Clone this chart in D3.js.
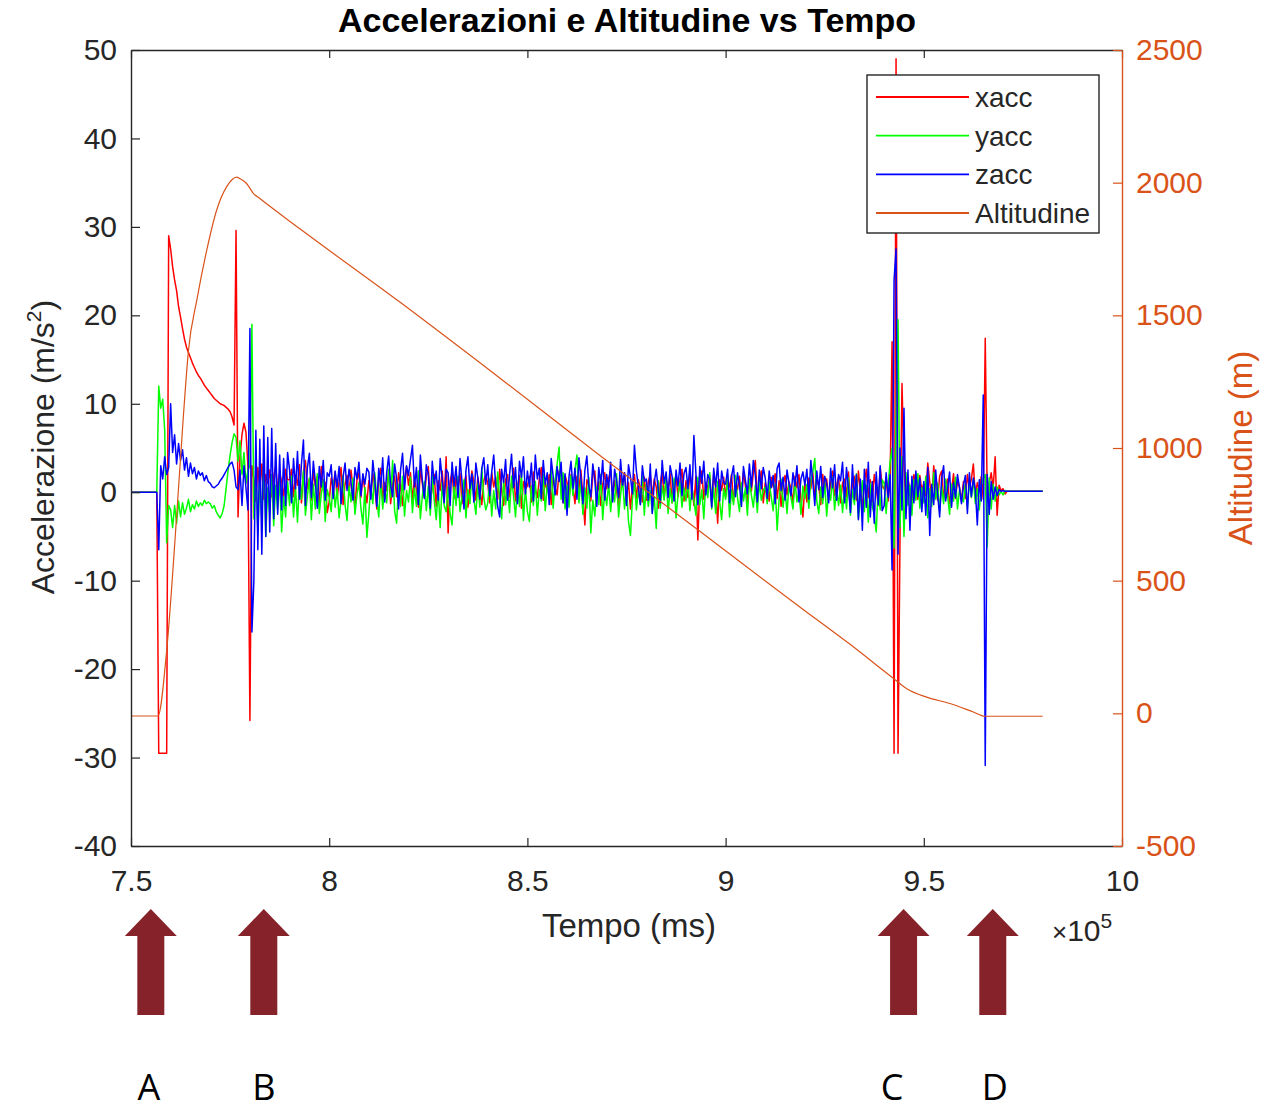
<!DOCTYPE html>
<html>
<head>
<meta charset="utf-8">
<title>Accelerazioni e Altitudine vs Tempo</title>
<script src="https://cdn.jsdelivr.net/npm/d3@7/dist/d3.min.js"></script>
<style>
  body { margin: 0; background: #fff; }
  svg { display: block; font-family: "Liberation Sans", Arial, Helvetica, sans-serif; }
</style>
</head>
<body>
<svg id="chart" width="1263" height="1116"></svg>
<script>
// ==========================================================================
// DATI
// ==========================================================================

// campionamento delle accelerazioni: t = SAMPLE_T0 + i * SAMPLE_DT (ms)
const SAMPLE_T0 = 750000;
const SAMPLE_DT = 500;

// xacc (m/s^2), una riga = 10000 ms
const xacc = [
  0,0,0,0,0,0,0,0,0,0,0,0,0,0,-29.5,-29.5,-29.5,-29.5,-29.5,29,
  27.5,25.5,24,22.8,21,19.8,18.5,17.3,16.4,15.8,15.2,14.6,14.1,13.6,13.2,12.9,12.5,12.1,11.8,11.5,
  11.2,10.9,10.6,10.4,10.2,10.0,9.9,9.8,9.6,9.4,9.1,8.5,7.6,29.6,-2.8,4,6.5,7.8,6.8,3,
  -25.8,3,1.5,-1,2.8,0.5,3.2,-0.8,2,1,2.5,-0.5,1.8,3,0.2,2.2,1.2,-0.6,2.6,1.4,
  1.4,2.6,-0.5,1.9,0.8,3.1,-1.2,2.2,3.6,0.4,1.5,-0.9,2.4,0.7,1.8,-1.6,2.9,0.2,1.1,-2.3,
  -1.1,1.6,0.5,2.3,-0.7,1.2,2.8,-1.4,0.9,1.9,-0.3,2.5,0.6,-1.8,1.4,2.2,-0.6,1.7,0.3,-1.2,
  1.3,-0.4,2.1,0.7,-1.9,1.6,2.7,-0.8,1.1,0.2,2.4,-1.3,0.9,1.8,-0.5,2.2,0.6,-1.5,1.4,2.9,
  0.8,2.2,-0.9,1.5,0.3,-1.7,2.6,1.0,-0.6,1.8,2.9,-1.1,0.5,2.0,-1.6,1.3,0.2,2.4,-0.8,4.0,
  -4.6,1.2,2.3,-0.7,1.6,0.4,2.1,-1.3,0.8,1.9,-1.7,0.5,2.4,1.1,-0.9,1.7,0.2,-1.4,1.3,2.0,
  1.0,-1.2,2.2,0.6,1.7,-0.8,2.6,0.3,-1.5,1.4,2.0,-0.5,1.1,2.7,-1.0,0.7,1.9,-1.8,1.2,0.4,
  0.7,1.8,-1.1,2.3,0.4,-0.6,1.5,2.8,-0.9,1.2,0.2,2.0,-1.4,1.6,0.5,-0.3,2.4,1.0,-1.2,1.9,
  1.1,-0.7,2.0,0.6,-1.3,1.8,0.3,2.5,-0.5,-3.7,1.4,0.8,-1.0,1.9,2.4,-0.6,1.2,-1.5,0.9,2.2,
  0.4,1.6,2.5,-0.8,1.3,0.2,-1.6,1.9,0.7,2.2,-0.4,1.1,-1.9,0.6,2.0,-0.7,1.4,0.3,-1.1,1.7,
  -0.9,1.2,2.0,-0.4,1.5,0.6,-1.8,1.0,2.3,-0.7,1.4,0.2,2.1,-1.2,0.8,1.7,-0.5,1.3,2.6,-1.0,
  1.3,-0.6,2.2,0.8,-1.5,1.8,-5.4,0.9,2.4,-0.8,1.1,0.3,1.9,-1.3,2.1,0.5,-3.5,1.4,0.2,1.7,
  -0.5,1.4,0.6,2.0,-1.1,1.2,0.3,1.8,-0.8,2.3,0.7,-1.4,1.5,0.1,2.2,3.6,-0.6,1.0,2.4,-1.2,
  1.1,0.2,-1.0,1.7,0.6,2.1,-0.7,1.3,-1.6,0.9,1.9,-0.3,1.2,0.4,-1.2,1.8,0.5,2.0,-0.9,-2.8,
  0.9,-1.1,1.6,0.4,2.2,-0.6,1.3,0.8,-1.4,2.0,0.3,1.5,-0.8,1.1,2.4,-0.4,0.7,1.8,-1.2,1.0,
  1.5,-0.5,2.3,-1.4,0.9,1.8,-0.9,2.4,0.2,-1.8,1.1,2.6,-0.6,1.4,-1.1,2.0,0.5,-1.5,2.8,0.7,
  0.4,1.7,-1.0,1.2,17,-29.5,49,-29.5,-5,12.3,3,-1.8,1.5,0.3,-1.2,2.0,0.6,-0.8,1.9,0.2,
  1.0,-0.4,3.3,1.2,-1.1,3.0,0.5,-0.9,1.8,2.4,-0.6,0.8,1.5,-1.3,0.2,2.1,-0.7,1.3,0.6,-1.0,
  1.2,-0.7,2.0,0.4,1.5,3.2,-0.5,1.1,0.2,1.8,-0.8,17.4,-0.5,1.0,2.2,0.5,4.0,-2.6,0.8,0.2,
  0.4,-0.2,0.1,0.1,0.1,0.1,0.1,0.1,0.1,0.1,0.1,0.1,0.1,0.1,0.1,0.1,0.1,0.1,0.1,0.1,0.1
];

// yacc (m/s^2)
const yacc = [
  0,0,0,0,0,0,0,0,0,0,0,0,0,0,12,9.5,10.5,7,-5.7,-1.5,
  -2,-4,-1.5,-3.5,-1,-2.8,-1.2,-2.5,-1.8,-0.8,-2.2,-1.4,-1.9,-1,-1.6,-1.2,-1.5,-0.9,-1.3,-1.1,
  -1.3,-1.8,-1.5,-2.2,-2.6,-2.9,-2.4,-1.5,0.5,2.5,4.2,5.6,6.6,6.2,3.5,5.8,2,4.5,1,2.5,
  3,19,-3,2,-4.5,1.5,-3,3.5,-5,0.5,-2.5,2,-3.8,0.8,-2,1.5,-4.5,-0.5,-2.8,1.2,
  -1.5,1.8,-2.8,0.6,-3.4,1.2,-0.8,2.4,-2.6,-0.4,1.6,-3.1,0.9,-1.9,2.1,-2.4,-0.2,1.4,-3.3,0.3,
  -0.6,-2.2,1.3,-1.7,0.4,-2.9,-0.8,1.9,-1.4,-3.2,0.7,-1.1,1.6,-2.5,-0.3,1.1,-1.8,-3.6,0.5,-5.1,
  -2.4,0.8,-1.3,2.2,-0.7,-2.8,1.5,-1.9,0.4,-1.2,2.6,-0.6,3.6,-2.1,-3.5,0.9,-1.6,1.8,-2.7,0.2,
  -1.1,1.7,-2.3,0.5,-1.6,2.4,-3.0,-0.4,1.2,-2.1,0.7,-2.6,1.9,-0.9,-3.1,0.3,-4.0,1.1,-1.5,-2.2,
  0.6,-2.4,-3.7,0.9,-1.5,1.8,-2.2,-0.5,1.4,-2.9,0.3,-1.3,2.0,-0.8,-2.5,1.0,-1.7,2.8,-0.6,-2.0,
  -1.2,1.5,-2.7,0.2,-1.9,2.3,-0.7,-3.0,1.3,-1.4,0.6,-2.3,1.8,-0.4,-2.8,0.9,-1.6,2.1,-3.2,0.4,
  -2.2,-3.3,0.7,-1.5,1.2,-2.6,0.3,-1.0,2.0,-2.1,0.9,-0.6,2.5,-1.8,1.4,3.2,5.1,-0.8,2.2,-1.9,
  0.8,-1.7,1.9,-0.4,2.6,4.2,-1.2,1.3,-2.5,0.5,-1.8,1.7,-4.6,-0.9,-2.7,0.6,-1.4,2.0,-3.1,0.2,
  -1.5,1.0,-2.2,0.4,-1.1,2.1,-2.8,-0.3,1.5,-1.9,0.6,-3.3,-4.9,-0.8,1.2,-2.0,0.3,-1.4,1.8,-2.6,
  0.9,-1.6,0.2,-2.3,-0.5,-4.1,1.3,-1.8,0.7,-0.9,2.0,-2.4,0.4,-1.2,1.6,-2.9,-0.2,1.1,-1.7,0.5,
  -1.0,1.4,-2.1,0.6,-0.9,-2.6,1.7,-1.4,0.3,-3.0,1.0,-0.6,2.2,-1.9,0.5,-2.4,1.2,-1.1,-3.1,0.4,
  -0.8,1.6,-2.8,0.3,-1.4,1.9,-0.6,-2.2,1.1,-1.0,0.5,-2.6,1.4,-0.3,-1.7,0.8,-2.3,1.2,-0.9,0.2,
  0.6,-1.3,1.2,-0.5,-2.1,0.9,-4.3,-0.8,1.5,-1.7,0.4,-2.4,1.0,-0.6,-1.9,1.3,-1.1,0.2,-2.5,0.7,
  -0.7,0.9,-1.8,1.4,2.3,3.8,-1.0,-2.4,0.6,-1.3,1.1,-2.7,0.2,-0.9,1.7,-2.0,0.4,-1.5,0.8,-2.3,
  0.5,-1.9,1.6,-2.6,0.3,-1.4,2.1,-3.0,-0.7,1.3,-2.2,0.8,-3.4,1.0,-1.6,-2.5,-4.5,0.6,-2.0,1.4,
  1.0,-2.4,0.6,3.5,5,-6.3,8,19.5,-4,4,-5,2.2,-1.5,0.8,-2.6,1.4,-0.9,2.1,-1.8,0.5,
  -1.2,1.8,-2.9,0.4,-1.6,2.2,-0.8,1.0,-2.2,0.7,-1.3,1.5,-0.4,-2.5,0.9,-1.0,1.7,-1.9,0.3,-0.7,
  -1.1,0.9,-1.8,1.2,-0.6,1.5,-1.3,0.4,-2.0,0.8,1.5,2.0,-6.2,1.6,-1.9,0.9,-1.0,0.6,-0.3,0.1,
  -0.3,0.2,0.1,0.1,0.1,0.1,0.1,0.1,0.1,0.1,0.1,0.1,0.1,0.1,0.1,0.1,0.1,0.1,0.1,0.1,0.1
];

// zacc (m/s^2)
const zacc = [
  0,0,0,0,0,0,0,0,0,0,0,0,0,0,-6.5,3,1.5,4,2,2.8,
  10,4.5,6.5,3.2,5.5,3.6,4.8,2.5,3.9,1.8,3.3,2.1,2.8,1.5,2.4,1.9,2.2,1.3,1.9,1.2,
  1.0,0.6,0.5,0.7,0.9,1.3,1.6,2.0,2.4,2.8,3.2,3.4,2.5,0.6,0.3,2.5,-1.5,3,0.5,-2,
  18.5,-15.8,-10,7,-6.5,6,-7,7.5,-5,6.2,-4.5,7.2,-3,5.5,-2.5,4.2,-2,3.8,-1.5,4.5,
  2.5,-1.2,3.8,0.4,4.6,-0.8,3.2,5.9,-1.5,2.8,4.4,-0.6,3.5,1.2,-1.8,2.9,0.6,3.6,-0.9,2.2,
  1.8,3.1,-0.7,2.4,0.6,2.9,-1.3,1.7,3.3,0.2,2.6,1.1,-0.9,2.8,1.5,3.4,-0.4,2.1,0.9,2.7,
  2.3,-0.8,3.6,1.4,-1.6,2.7,0.5,3.9,-1.1,2.2,4.1,0.8,-0.5,3.2,1.6,-1.9,2.5,4.4,0.3,3.0,
  1.9,3.7,5.3,0.6,2.8,-1.4,4.2,1.3,-0.7,3.1,2.0,-1.8,3.5,0.9,2.4,-0.9,3.8,1.5,-1.2,2.6,
  2.2,-1.5,3.4,0.7,2.9,-0.6,3.8,1.2,-1.9,2.5,4.0,0.4,2.1,-1.1,3.3,1.6,-0.8,2.7,3.9,0.9,
  3.1,-0.4,2.3,4.2,0.8,-1.6,-2.8,2.6,1.1,3.7,-0.9,2.0,4.3,0.5,2.8,-1.3,3.5,1.7,4.0,-0.2,
  2.4,0.6,3.3,-1.0,4.2,1.5,2.7,-0.7,3.6,0.9,2.2,-1.4,3.8,1.8,-0.3,2.9,1.2,3.4,-1.2,2.1,
  -2.6,1.8,3.5,0.4,2.7,-0.8,3.9,1.6,-1.3,2.5,4.1,0.7,-0.5,3.2,1.4,-1.6,2.8,0.9,3.6,-0.9,
  2.0,0.5,3.4,-1.1,2.6,1.3,-0.6,3.7,0.8,2.2,-1.5,3.1,1.7,-0.2,5.3,2.4,0.6,-1.4,3.0,1.2,
  1.5,-0.9,3.2,-2.4,1.1,2.6,0.3,-1.2,3.6,1.0,2.3,-0.6,3.0,1.8,-1.0,2.5,0.7,3.3,-0.4,2.1,
  2.8,0.4,3.1,-0.8,6.4,2.2,-1.4,2.9,1.0,3.5,-0.3,2.0,1.4,-1.7,2.7,0.6,3.3,-1.0,2.4,1.1,
  0.9,2.6,-1.2,1.8,3.0,-0.5,2.2,0.8,-1.6,2.9,1.4,-0.2,3.2,0.6,3.6,1.9,-1.1,2.5,0.4,2.8,
  1.6,-0.7,2.4,0.5,1.9,-1.3,2.7,3.3,0.2,1.7,-0.9,2.5,1.0,-0.4,2.2,0.7,3.0,-1.1,1.5,2.3,
  0.8,2.6,-0.8,3.6,1.2,-1.5,2.4,0.3,2.9,-0.6,1.8,1.0,-1.2,2.7,0.5,3.1,-0.9,2.0,1.3,3.4,
  -1.2,2.8,0.4,-2.3,3.1,-0.8,2.0,-3.1,1.5,-4.3,2.6,-1.7,3.4,-2.8,1.2,-3.5,2.3,-1.4,3.0,-2.1,
  -1.5,2.2,-0.6,2.0,-8.8,24,27.5,-7,5,-2,9.5,-3,2.5,-4.3,1.8,-1.2,2.4,-0.5,1.6,-2.2,
  1.2,-2.6,2.8,-4.9,0.9,-1.4,2.5,-0.3,-2.8,1.6,3.0,-1.0,0.4,2.3,-1.7,1.1,-0.6,2.0,0.5,-1.3,
  0.8,1.9,-2.4,2.2,-0.5,1.6,0.3,-3.7,1.4,-1.0,11,-30.9,2.0,-2.5,1.2,-0.8,0.6,-0.4,0.3,0.1,
  0.2,0.1,0.1,0.1,0.1,0.1,0.1,0.1,0.1,0.1,0.1,0.1,0.1,0.1,0.1,0.1,0.1,0.1,0.1,0.1,0.1
];

// altitudine (m) ai tempi indicati (ms)
const altTime = [750000, 756800, 759000, 761500, 763200, 764500, 766600, 769100, 771600,
  774100, 776700, 777500, 779200, 780900, 782500, 792600, 817900, 843100, 868300,
  893500, 918800, 931400, 942300, 945700, 950700, 956600, 962500, 965400, 980000];
const altValue = [-10, -10, 237, 740, 1117, 1368, 1557, 1745, 1896,
  1984, 2021, 2015, 1996, 1959, 1940, 1826, 1549, 1263, 972,
  686, 400, 260, 132, 93, 61, 37, 5, -11, -11];

// assi
const xTicks = [750000, 800000, 850000, 900000, 950000, 1000000];
const leftTicks = [-40, -30, -20, -10, 0, 10, 20, 30, 40, 50];
const rightTicks = [-500, 0, 500, 1000, 1500, 2000, 2500];

// legenda
const legendLabels = ['xacc', 'yacc', 'zacc', 'Altitudine'];
const seriesColors = ['#FF0000', '#00FF00', '#0000FF', '#D95319'];

// frecce e lettere sotto il grafico (tempo, ms)
const eventTime = [755000, 783500, 944900, 967400];
const eventLabelTime = [754500, 783500, 942000, 967900];
const eventLabels = ['A', 'B', 'C', 'D'];

// ==========================================================================
// LAYOUT E SCALE
// ==========================================================================

const AXIS_COLOR = '#262626';
const ALT_COLOR = '#D95319';
const ARROW_COLOR = '#86222A';
const plot = { left: 131, top: 50, right: 1122, bottom: 846 };

const x = d3.scaleLinear().domain([750000, 1000000]).range([plot.left, plot.right]);
const yL = d3.scaleLinear().domain([-40, 50]).range([plot.bottom, plot.top]);
const yR = d3.scaleLinear().domain([-500, 2500]).range([plot.bottom, plot.top]);

const svg = d3.select('#chart');

svg.append('defs').append('clipPath').attr('id', 'plot-clip')
  .append('rect')
  .attr('x', plot.left).attr('y', plot.top)
  .attr('width', plot.right - plot.left).attr('height', plot.bottom - plot.top);

// ==========================================================================
// SERIE
// ==========================================================================

const series = [
  { name: 'xacc', values: xacc, color: seriesColors[0] },
  { name: 'yacc', values: yacc, color: seriesColors[1] },
  { name: 'zacc', values: zacc, color: seriesColors[2] }
];

const accLine = d3.line()
  .x((d, i) => x(SAMPLE_T0 + i * SAMPLE_DT))
  .y(d => yL(d));

const lines = svg.append('g').attr('clip-path', 'url(#plot-clip)');

series.forEach(s => {
  lines.append('path')
    .datum(s.values)
    .attr('fill', 'none')
    .attr('stroke', s.color)
    .attr('stroke-width', 1.5)
    .attr('stroke-linejoin', 'round')
    .attr('d', accLine);
});

const altLine = d3.line()
  .x((d, i) => x(altTime[i]))
  .y(d => yR(d))
  .curve(d3.curveMonotoneX);

lines.append('path')
  .datum(altValue)
  .attr('fill', 'none')
  .attr('stroke', ALT_COLOR)
  .attr('stroke-width', 1.2)
  .attr('d', altLine);

// ==========================================================================
// ASSI
// ==========================================================================

function styleAxis(g, color) {
  g.attr('font-family', null).attr('font-size', null);
  g.selectAll('.domain').attr('stroke', color).attr('stroke-width', 1.4);
  g.selectAll('.tick line').attr('stroke', color).attr('stroke-width', 1.2);
  g.selectAll('.tick text').attr('fill', color).style('font-size', '30px');
}

// asse superiore (solo tacche)
svg.append('g')
  .attr('transform', `translate(0,${plot.top})`)
  .call(d3.axisTop(x).tickValues(xTicks).tickSizeInner(-8).tickSizeOuter(0).tickFormat(''))
  .call(g => styleAxis(g, AXIS_COLOR));

svg.append('g')
  .attr('transform', `translate(0,${plot.bottom})`)
  .call(d3.axisBottom(x).tickValues(xTicks).tickSizeInner(-8).tickSizeOuter(0)
    .tickPadding(24).tickFormat(d => String(d / 1e5)))
  .call(g => styleAxis(g, AXIS_COLOR));

svg.append('g')
  .attr('transform', `translate(${plot.left},0)`)
  .call(d3.axisLeft(yL).tickValues(leftTicks).tickSizeInner(-9).tickSizeOuter(0)
    .tickPadding(14).tickFormat(d => String(d)))
  .call(g => styleAxis(g, AXIS_COLOR));

svg.append('g')
  .attr('transform', `translate(${plot.right},0)`)
  .call(d3.axisRight(yR).tickValues(rightTicks).tickSizeInner(-9).tickSizeOuter(0)
    .tickPadding(14).tickFormat(d => String(d)))
  .call(g => styleAxis(g, ALT_COLOR));

// ==========================================================================
// TESTI
// ==========================================================================

svg.append('text')
  .attr('x', 627).attr('y', 32)
  .attr('text-anchor', 'middle')
  .attr('font-weight', 'bold')
  .attr('font-size', 34)
  .attr('fill', '#000')
  .text('Accelerazioni e Altitudine vs Tempo');

svg.append('text')
  .attr('x', 629).attr('y', 937)
  .attr('text-anchor', 'middle')
  .attr('font-size', 33)
  .attr('fill', AXIS_COLOR)
  .text('Tempo (ms)');

const yLabel = svg.append('text')
  .attr('transform', 'translate(54,447) rotate(-90)')
  .attr('text-anchor', 'middle')
  .attr('font-size', 32)
  .attr('fill', AXIS_COLOR);
yLabel.append('tspan').text('Accelerazione (m/s');
yLabel.append('tspan').attr('font-size', 21).attr('dy', -13).text('2');
yLabel.append('tspan').attr('dy', 13).text(')');

svg.append('text')
  .attr('transform', 'translate(1252,448) rotate(-90)')
  .attr('text-anchor', 'middle')
  .attr('font-size', 33)
  .attr('fill', ALT_COLOR)
  .text('Altitudine (m)');

// moltiplicatore asse x
const mult = svg.append('text')
  .attr('x', 1052).attr('y', 941)
  .attr('font-size', 30)
  .attr('fill', AXIS_COLOR);
mult.append('tspan').attr('font-size', 26).text('\u00D7');
mult.append('tspan').text('10');
mult.append('tspan').attr('font-size', 21).attr('dy', -13).text('5');

// ==========================================================================
// LEGENDA
// ==========================================================================

const legend = svg.append('g').attr('transform', 'translate(867,75)');
legend.append('rect')
  .attr('width', 232).attr('height', 158)
  .attr('fill', '#fff')
  .attr('stroke', AXIS_COLOR)
  .attr('stroke-width', 1.4);

const legendRowY = d3.scalePoint().domain(legendLabels).range([22, 138]);

legendLabels.forEach((label, i) => {
  const ly = legendRowY(label);
  legend.append('line')
    .attr('x1', 9).attr('x2', 102)
    .attr('y1', ly).attr('y2', ly)
    .attr('stroke', seriesColors[i])
    .attr('stroke-width', 1.8);
  legend.append('text')
    .attr('x', 108).attr('y', ly)
    .attr('dy', '0.36em')
    .attr('font-size', 28)
    .attr('fill', AXIS_COLOR)
    .text(label);
});

// ==========================================================================
// FRECCE A, B, C, D
// ==========================================================================

const arrowPath = 'M0,0 L26,27 L13.5,27 L13.5,106 L-13.5,106 L-13.5,27 L-26,27 Z';

eventTime.forEach(t => {
  svg.append('path')
    .attr('transform', `translate(${x(t)},909)`)
    .attr('d', arrowPath)
    .attr('fill', ARROW_COLOR);
});

eventLabels.forEach((label, i) => {
  svg.append('text')
    .attr('x', x(eventLabelTime[i])).attr('y', 1100)
    .attr('text-anchor', 'middle')
    .attr('font-family', '"Liberation Sans Narrow", "Open Sans", sans-serif')
    .attr('font-size', 36)
    .attr('fill', '#000')
    .text(label);
});
</script>
</body>
</html>
